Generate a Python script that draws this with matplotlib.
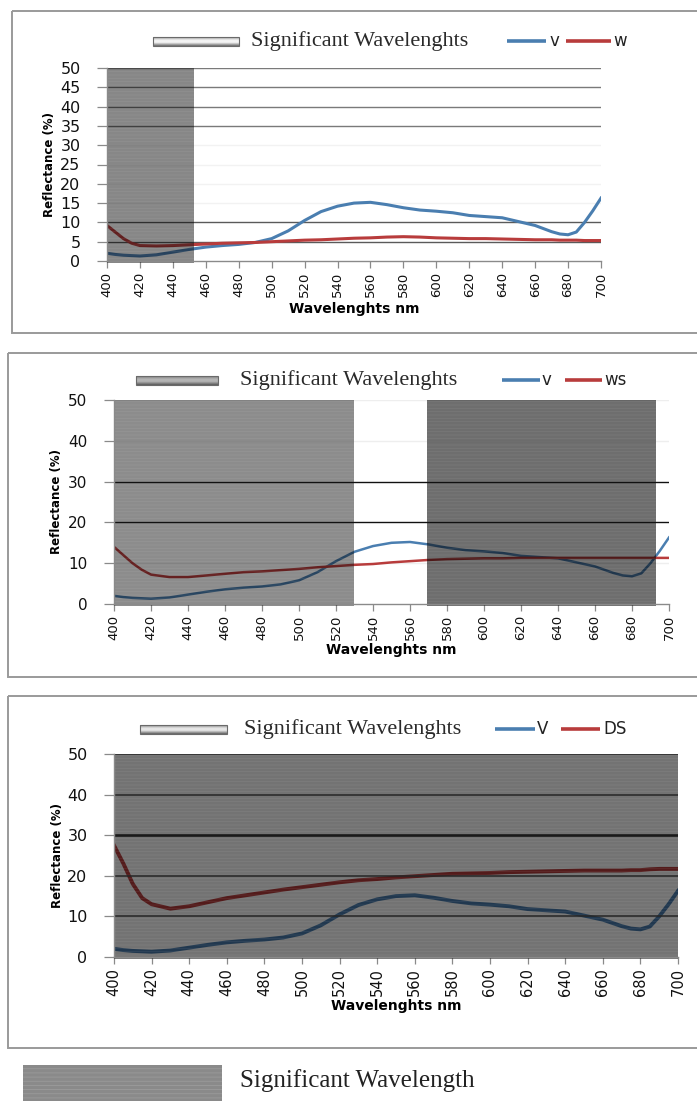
import numpy as np
import matplotlib.pyplot as plt
from matplotlib.patches import Rectangle
from matplotlib.lines import Line2D
from matplotlib.colors import to_rgb

W_PX, H_PX = 697, 1101

# wavelengths (nm) and reflectance (%)
wl = [400, 405, 410, 415, 420, 430, 440, 450, 460, 470, 480, 490, 500, 510, 520,
      530, 540, 550, 560, 570, 580, 590, 600, 610, 620, 630, 640, 650, 660, 670,
      675, 680, 685, 690, 695, 700]

v_vals = [2.0, 1.7, 1.5, 1.4, 1.3, 1.6, 2.3, 3.0, 3.6, 4.0, 4.3, 4.8, 5.8, 7.8, 10.5,
          12.8, 14.2, 15.0, 15.2, 14.6, 13.8, 13.2, 12.9, 12.5, 11.8, 11.5, 11.2, 10.2, 9.2, 7.6,
          7.0, 6.8, 7.5, 10.0, 13.0, 16.3]

w_vals = [9.2, 7.5, 5.8, 4.6, 4.0, 3.9, 4.0, 4.2, 4.4, 4.6, 4.7, 4.8, 5.0, 5.2, 5.4,
          5.5, 5.7, 5.9, 6.0, 6.2, 6.3, 6.2, 6.0, 5.9, 5.8, 5.8, 5.7, 5.6, 5.5, 5.5,
          5.4, 5.4, 5.4, 5.3, 5.3, 5.3]

ws_vals = [14.0, 12.0, 10.0, 8.4, 7.2, 6.6, 6.6, 7.0, 7.4, 7.8, 8.0, 8.3, 8.6, 9.0, 9.3,
           9.6, 9.8, 10.2, 10.5, 10.8, 11.0, 11.1, 11.2, 11.2, 11.3, 11.3, 11.3, 11.3, 11.3, 11.3,
           11.3, 11.3, 11.3, 11.3, 11.3, 11.3]

ds_vals = [27.5, 23.0, 18.0, 14.5, 13.0, 11.9, 12.5, 13.5, 14.5, 15.2, 15.9, 16.6, 17.2, 17.8, 18.4,
           18.9, 19.2, 19.6, 19.9, 20.2, 20.5, 20.6, 20.7, 20.9, 21.0, 21.1, 21.2, 21.3, 21.3, 21.3,
           21.4, 21.4, 21.6, 21.7, 21.7, 21.7]

xticks = list(range(400, 701, 20))

# significant wavelength bands per panel
bands_1 = [(400, 453)]
bands_2 = [(400, 530), (569, 693)]
bands_3 = [(400, 700)]

BLUE = '#4a7eb0'
RED = '#b83c3c'

plt.rcParams['hatch.linewidth'] = 0.6

fig = plt.figure(figsize=(W_PX / 100, H_PX / 100), dpi=100)

# full-figure overlay in pixel coordinates for frames and legends
ov = fig.add_axes([0, 0, 1, 1], zorder=-1)
ov.axis('off')


def px_axes(x0, y0, x1, y1):
    ax = fig.add_axes([x0 / W_PX, 1 - y1 / H_PX, (x1 - x0) / W_PX, (y1 - y0) / H_PX])
    ax._px = (x0, y0, x1, y1)
    return ax


def frame(x0, y0, y1):
    ov.add_patch(Rectangle((x0, y0), W_PX + 10 - x0, y1 - y0, fill=False,
                           edgecolor='#9a9a9a', lw=1.4))


def gradient_bar(x0, x1, y0, y1, top, mid, bot):
    cols = np.array([to_rgb(c) for c in (top, mid, mid, bot)])
    t = np.linspace(0, 1, 40)
    img = np.stack([np.interp(t, [0, 0.35, 0.6, 1], cols[:, k]) for k in range(3)], axis=-1)
    img = np.repeat(img[:, None, :], 2, axis=1)
    ov.imshow(img, extent=[x0, x1, y1, y0], aspect='auto', zorder=2)
    ov.add_patch(Rectangle((x0, y0), x1 - x0, y1 - y0, fill=False, edgecolor='#6a6a6a',
                           lw=0.8, zorder=3))


def legend_row(bar, shades, title_x, y, names, items):
    gradient_bar(bar[0], bar[1], y - 4, y + 5, *shades)
    ov.text(title_x, y, 'Significant Wavelenghts', family='Liberation Serif',
            fontsize=16, color='#2a2a2a', va='center', ha='left')
    for (lx0, lx1, tx), (name, col) in zip(items, names):
        ov.add_line(Line2D([lx0, lx1], [y, y], color=col, lw=2.6, solid_capstyle='butt'))
        ov.text(tx, y, name, fontsize=12, color='#222222', va='center', ha='left',
                family='DejaVu Sans')


def shade(ax, bands, alpha):
    for a, b in bands:
        ax.add_patch(Rectangle((a, -0.4), b - a, 50.4, facecolor='black', alpha=alpha,
                               edgecolor='none', zorder=3, clip_on=False))
        ax.add_patch(Rectangle((a, -0.4), b - a, 50.4, fill=False, hatch='-----',
                               edgecolor=(1, 1, 1, 0.07), lw=0, zorder=3.1, clip_on=False))


def style_axes(ax, yticks, xtick_fs, ytick_fs, label_fs, ylabel_x, xlabel_y):
    ax.set_xlim(400, 700)
    ax.set_ylim(0, 50)
    ax.set_xticks(xticks)
    ax.set_xticklabels([str(t) for t in xticks], rotation=90, fontsize=xtick_fs)
    ax.set_yticks(yticks)
    ax.set_yticklabels([str(t) for t in yticks], fontsize=ytick_fs)
    for s in ('top', 'right'):
        ax.spines[s].set_visible(False)
    for s in ('left', 'bottom'):
        ax.spines[s].set_color('#8a8a8a')
        ax.spines[s].set_linewidth(1.0)
        ax.spines[s].set_zorder(5)
    ax.tick_params(axis='y', color='#8a8a8a', length=7, width=0.9, pad=12,
                   labelcolor='#111111')
    ax.tick_params(axis='x', color='#8a8a8a', length=5, width=0.9, pad=3,
                   labelcolor='#111111')
    ax.set_facecolor('none')
    x0, y0, x1, y1 = ax._px
    ax.set_ylabel('Reflectance (%)', fontsize=label_fs, fontweight='bold')
    ax.yaxis.set_label_coords((ylabel_x - x0) / (x1 - x0), 0.5)
    ax.set_xlabel('Wavelenghts nm', fontsize=label_fs + 1.5, fontweight='bold')
    ax.xaxis.set_label_coords(0.5, (y1 - xlabel_y) / (y1 - y0))
    ax.xaxis.label.set_va('center')
    ax.yaxis.label.set_va('center')


# ---------- panel 1 : v vs w ----------
frame(12, 11, 333)
legend_row((153, 239), ('#a0a0a0', '#f4f4f4', '#6a6a6a'), 251, 41,
           [('v', BLUE), ('w', RED)], [(507, 546, 549), (566, 611, 613)])
ax1 = px_axes(107, 68, 601, 261)
style_axes(ax1, list(range(0, 51, 5)), 9.5, 11.5, 8.5, 50, 309)
for g in (50, 45, 40, 35):
    ax1.axhline(g, color='#7a7a7a', lw=1.0, zorder=1)
for g in (30, 25, 20, 15):
    ax1.axhline(g, color='#f2f2f2', lw=1.0, zorder=1)
for g in (10, 5):
    ax1.axhline(g, color='#5a5a5a', lw=1.0, zorder=1)
ax1.plot(wl, v_vals, color=BLUE, lw=2.2, zorder=2)
ax1.plot(wl, w_vals, color=RED, lw=2.2, zorder=2)
shade(ax1, bands_1, 0.47)

# ---------- panel 2 : v vs ws ----------
frame(8, 353, 677)
legend_row((136, 218), ('#808080', '#b4b4b4', '#5a5a5a'), 240, 380,
           [('v', BLUE), ('ws', RED)], [(502, 540, 542), (565, 602, 604)])
ax2 = px_axes(114, 400, 669, 604)
style_axes(ax2, list(range(0, 51, 10)), 9.5, 11, 8.5, 57, 650)
for g in (50, 40, 10):
    ax2.axhline(g, color='#eeeeee', lw=1.0, zorder=1)
for g in (30, 20):
    ax2.axhline(g, color='#111111', lw=1.0, zorder=4)
ax2.plot(wl, v_vals, color=BLUE, lw=1.8, zorder=2)
ax2.plot(wl, ws_vals, color=RED, lw=1.8, zorder=2)
shade(ax2, bands_2[:1], 0.45)
shade(ax2, bands_2[1:], 0.57)

# ---------- panel 3 : v vs DS ----------
frame(8, 696, 1048)
legend_row((140, 227), ('#8c8c8c', '#e6e6e6', '#606060'), 244, 729,
           [('V', BLUE), ('DS', RED)], [(495, 535, 537), (561, 600, 603)])
ax3 = px_axes(114, 754, 678, 957)
style_axes(ax3, list(range(0, 51, 10)), 10.5, 11.5, 8.5, 58, 1006)
ax3.plot(wl, v_vals, color=BLUE, lw=2.8, zorder=2)
ax3.plot(wl, ds_vals, color=RED, lw=2.8, zorder=2)
shade(ax3, bands_3, 0.55)
for g in (50, 40, 20, 10):
    ax3.axhline(g, color='#262626', lw=1.1, zorder=4)
ax3.axhline(30, color='#1a1a1a', lw=1.9, zorder=4)

# ---------- bottom key ----------
ov.add_patch(Rectangle((23, 1065), 199, 40, facecolor='#8a8a8a', edgecolor='none'))
ov.add_patch(Rectangle((23, 1065), 199, 40, fill=False, hatch='----',
                       edgecolor=(1, 1, 1, 0.15), lw=0))
ov.text(240, 1081, 'Significant Wavelength', family='Liberation Serif', fontsize=18,
        color='#222222', va='center', ha='left')

ov.set_xlim(0, W_PX)
ov.set_ylim(H_PX, 0)

fig.savefig('out.png', dpi=100, facecolor='white')
